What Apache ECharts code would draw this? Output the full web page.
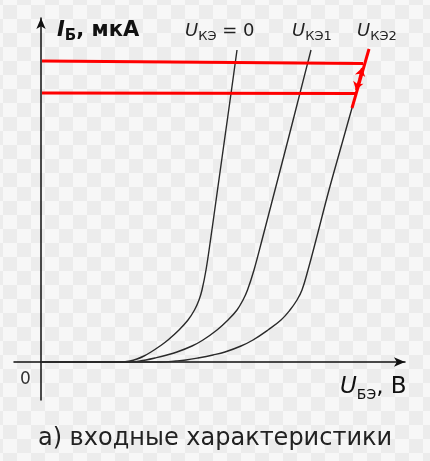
<!DOCTYPE html>
<html>
<head>
<meta charset="utf-8">
<script src="https://cdn.jsdelivr.net/npm/echarts@6/dist/echarts.min.js"></script>
<style>
  html, body { margin: 0; padding: 0; background: #f7f7f7; }
  #chart { width: 430px; height: 461px; }
</style>
</head>
<body>
<div id="chart"></div>
<script>
// входные характеристики, условные единицы (U_БЭ по x, I_Б по y)
var curve0 = [[0, 0], [80, 0], [89, 1], [96, 3], [103, 6], [110, 10], [119, 16], [127, 22], [138, 32], [147, 42], [153.5, 52], [158, 62], [161, 72], [165, 92], [169.5, 122], [176.5, 172], [183.5, 222], [190.5, 272], [196, 312]];
var curve1 = [[0, 0], [88, 0], [99, 1], [105, 2], [114, 4], [126, 7], [136, 10], [151, 16], [162, 22], [176, 32], [187, 42], [196, 52], [202, 62], [206.5, 72], [213, 92], [221, 122], [234, 172], [247, 222], [258.5, 267], [270, 312]];
var curve2 = [[0, 0], [120, 0], [135, 1], [145, 2], [157, 4], [172, 7], [184, 10], [200, 16], [212, 22], [227, 32], [240, 42], [249, 52], [256, 62], [261, 72], [267, 92], [275, 122], [288, 172], [302, 222], [311, 254], [328, 313]];
// красные уровни тока базы и участок на третьей кривой
var levelTop = [[1, 301], [322, 298.5]];
var levelBottom = [[1, 269], [316, 268.5]];
var redPart = [[311, 254], [328, 313]];
var arrows = [
  [[318, 282], [321, 294]],
  [[318, 282], [315, 272]]
];

// шахматный фон (как у прозрачной картинки)
var tile = document.createElement('canvas');
tile.width = 28;
tile.height = 28;
var ctx = tile.getContext('2d');
ctx.fillStyle = '#f7f7f7';
ctx.fillRect(0, 0, 28, 28);
ctx.fillStyle = '#ececec';
[[3, 5], [17, 19], [-11, 19], [17, -9], [-11, -9]].forEach(function (p) {
  ctx.fillRect(p[0], p[1], 14, 14);
});

var chart = echarts.init(document.getElementById('chart'));

var font = '"DejaVu Sans", Verdana, sans-serif';
var curveStyle = { color: '#2a2a2a', width: 1.4 };

function subLabel(main, sub, rest, size, subSize, color, bold) {
  var w = bold ? 'bold' : 'normal';
  return {
    text: '{u|' + main + '}{s|' + sub + '}' + (rest ? '{t|' + rest + '}' : ''),
    rich: {
      u: { fontFamily: font, fontSize: size, fontStyle: 'italic', fontWeight: w, fill: color, lineHeight: size + 4, verticalAlign: 'bottom' },
      s: { fontFamily: font, fontSize: subSize, fontWeight: w, fill: color, lineHeight: size + 4, verticalAlign: 'bottom', padding: [0, 0, -3, 0] },
      t: { fontFamily: font, fontSize: size, fontWeight: w, fill: color, lineHeight: size + 4, verticalAlign: 'bottom' }
    }
  };
}

var option = {
  animation: false,
  backgroundColor: { image: tile, repeat: 'repeat' },
  grid: { left: 14, right: 25, top: 18, bottom: 61 },
  xAxis: {
    type: 'value', min: -27, max: 364,
    axisLine: { onZero: true, symbol: ['none', 'arrow'], symbolSize: [7, 11], lineStyle: { color: '#111', width: 1.5 } },
    axisTick: { show: false }, axisLabel: { show: false }, splitLine: { show: false }
  },
  yAxis: {
    type: 'value', min: -38, max: 344,
    axisLine: { onZero: true, symbol: ['none', 'arrow'], symbolSize: [7, 11], lineStyle: { color: '#111', width: 1.5 } },
    axisTick: { show: false }, axisLabel: { show: false }, splitLine: { show: false }
  },
  series: [
    { type: 'line', data: curve0, smooth: 0.4, showSymbol: false, lineStyle: curveStyle },
    { type: 'line', data: curve1, smooth: 0.4, showSymbol: false, lineStyle: curveStyle },
    { type: 'line', data: curve2, smooth: 0.4, showSymbol: false, lineStyle: curveStyle },
    { type: 'line', data: levelTop, showSymbol: false, lineStyle: { color: '#ff0000', width: 3 } },
    { type: 'line', data: levelBottom, showSymbol: false, lineStyle: { color: '#ff0000', width: 3 } },
    { type: 'line', data: redPart, showSymbol: false, lineStyle: { color: '#ff0000', width: 3 } },
    {
      type: 'lines', coordinateSystem: 'cartesian2d',
      symbol: ['none', 'arrow'], symbolSize: 8,
      lineStyle: { color: '#ff0000', width: 2, opacity: 1 },
      data: arrows.map(function (a) { return { coords: a }; })
    }
  ],
  graphic: [
    { type: 'text', left: 57, top: 20, style: subLabel('I', 'Б', ', мкА', 21, 15, '#111', true) },
    { type: 'text', left: 185, top: 22, style: subLabel('U', 'КЭ', ' = 0', 18, 13, '#222', false) },
    { type: 'text', left: 292, top: 22, style: subLabel('U', 'КЭ1', '', 18, 13, '#222', false) },
    { type: 'text', left: 357, top: 22, style: subLabel('U', 'КЭ2', '', 18, 13, '#222', false) },
    { type: 'text', left: 20, top: 371, style: { text: '0', fontFamily: font, fontSize: 17, fill: '#333' } },
    { type: 'text', left: 340, top: 376, style: subLabel('U', 'БЭ', ', В', 23, 14, '#111', false) },
    {
      type: 'text', left: 'center', top: 427,
      style: { text: 'а) входные характеристики', fontFamily: font, fontSize: 24, fill: '#222' }
    }
  ]
};

option && chart.setOption(option);
</script>
</body>
</html>
